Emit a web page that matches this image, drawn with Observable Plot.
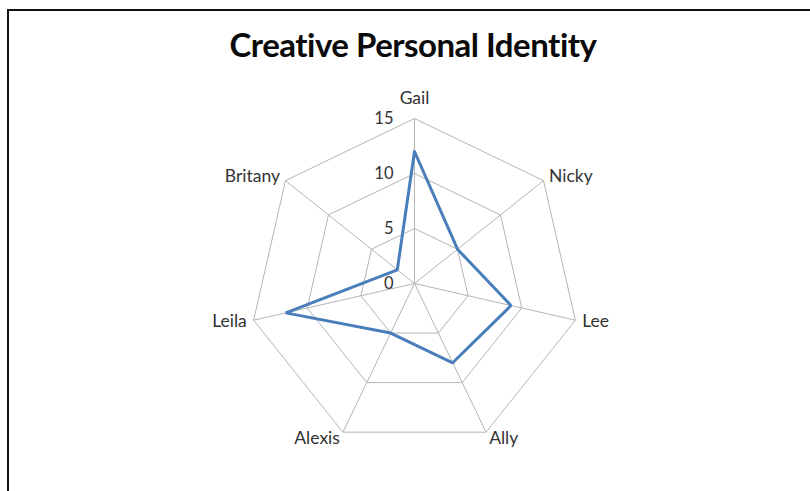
<!DOCTYPE html>
<html>
<head>
<meta charset="utf-8">
<script src="https://cdn.jsdelivr.net/npm/d3@7"></script>
<script src="https://cdn.jsdelivr.net/npm/@observablehq/plot@0.6"></script>
<style>
  html, body { margin: 0; padding: 0; background: #fff; }
  #wrap { position: relative; width: 810px; height: 491px; overflow: hidden; font-family: Lato, "Open Sans", sans-serif; }
  #frame { position: absolute; left: 7px; top: 9px; right: -5px; bottom: -5px; border-left: 2px solid #111; border-top: 2px solid #111; }
  #title { position: absolute; left: 0; width: 826px; top: 24px; text-align: center; font-size: 33px; font-weight: bold; color: #0a0a0a; letter-spacing: -0.5px; }
  #chart { position: absolute; left: 0; top: 80px; }
</style>
</head>
<body>
<div id="wrap">
  <div id="frame"></div>
  <div id="title">Creative Personal Identity</div>
  <div id="chart"></div>
</div>
<script>
const names = ["Gail", "Nicky", "Lee", "Ally", "Alexis", "Leila", "Britany"];
const values = [12, 5, 9, 8, 5, 12, 2];
const ringLevels = [5, 10, 15];
const tickLabels = ["0", "5", "10", "15"];
const tickValues = [0, 5, 10, 15];
const maxValue = 15;

const n = names.length;
const ang = i => (2 * Math.PI * i) / n;
const px = (i, r) => r * Math.sin(ang(i));
const py = (i, r) => r * Math.cos(ang(i));

const rings = ringLevels.flatMap(level =>
  d3.range(n + 1).map(i => ({level, x: px(i % n, level), y: py(i % n, level)})));
const spokes = names.map((name, i) => ({x1: 0, y1: 0, x2: px(i, maxValue), y2: py(i, maxValue)}));
const series = d3.range(n + 1).map(i => ({name: names[i % n], x: px(i % n, values[i % n]), y: py(i % n, values[i % n])}));
const ticks = tickValues.map((v, i) => ({label: tickLabels[i], x: 0, y: v}));

const labelMarks = names.map((name, i) => {
  const s = Math.sin(ang(i)), c = Math.cos(ang(i));
  const top = Math.abs(s) < 0.1;
  return Plot.text([{name, x: px(i, maxValue), y: py(i, maxValue)}], {
    x: "x", y: "y", text: "name",
    textAnchor: top ? "middle" : s > 0 ? "start" : "end",
    dx: top ? 0 : 7 * s,
    dy: top ? -20 : -7 * c,
    fontSize: 17.5, fill: "#333"
  });
});

const k = 165 / 15;
const W = 810, H = 400, cx = 414, cy = 203;

const plot = Plot.plot({
  width: W, height: H, margin: 0,
  x: {type: "linear", domain: [-cx / k, (W - cx) / k], range: [0, W], axis: null},
  y: {type: "linear", domain: [-(H - cy) / k, cy / k], range: [H, 0], axis: null},
  style: {fontFamily: "Lato, 'Open Sans', sans-serif", background: "transparent"},
  marks: [
    Plot.line(rings, {x: "x", y: "y", z: "level", stroke: "#b4b4b4", strokeWidth: 1}),
    Plot.link(spokes, {x1: "x1", y1: "y1", x2: "x2", y2: "y2", stroke: "#b4b4b4", strokeWidth: 1}),
    Plot.line(series, {x: "x", y: "y", stroke: "#4a7ebb", strokeWidth: 3, strokeLinejoin: "miter"}),
    ...labelMarks,
    Plot.text(ticks, {x: "x", y: "y", text: "label", textAnchor: "end", dx: -21, fontSize: 16.5, fill: "#333"})
  ]
});
document.getElementById("chart").appendChild(plot);
</script>
</body>
</html>
